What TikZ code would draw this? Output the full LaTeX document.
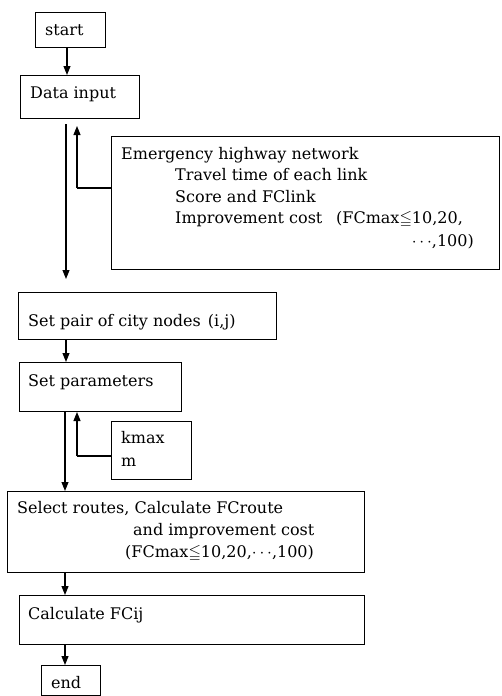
\documentclass[tikz,border=0pt]{standalone}
\usepackage{amssymb}
\usepackage{fontspec}
\setmainfont{DejaVu Serif}
\usetikzlibrary{arrows.meta}
\tikzset{
  box/.style={draw, line width=1pt, rectangle, anchor=north west, inner sep=0pt},
  txt/.style={inner sep=0pt, anchor=base west, font=\fontsize{16pt}{21.5pt}\selectfont},
  txte/.style={txt, anchor=base east},
  arr/.style={line width=1.1pt, -{Triangle[length=9pt,width=7pt]}},
  ln/.style={line width=1.1pt}
}
\begin{document}
\begin{tikzpicture}[x=1pt,y=-1pt]
\useasboundingbox (0,0) rectangle (501,696);
% boxes
\node[box, minimum width=70pt, minimum height=35pt] (start) at (35,12) {};
\node[box, minimum width=119pt, minimum height=43pt] (data) at (20,75) {};
\node[box, minimum width=388pt, minimum height=133pt] (emerg) at (111,136) {};
\node[box, minimum width=258pt, minimum height=47pt] (pair) at (18,292) {};
\node[box, minimum width=162pt, minimum height=49pt] (param) at (19,362) {};
\node[box, minimum width=80pt, minimum height=58pt] (kmax) at (111,421) {};
\node[box, minimum width=357pt, minimum height=81pt] (select) at (7,491) {};
\node[box, minimum width=345pt, minimum height=49pt] (calc) at (19,595) {};
\node[box, minimum width=59pt, minimum height=30pt] (end) at (41,665) {};
% texts
\node[txt] (tstart) at (45,35) {start};
\node[txt] (tdata) at (30,98) {Data input};
\node[txt] (te1) at (121,159) {Emergency highway network};
\node[txt] (te2) at (175,180) {Travel time of each link};
\node[txt] (te3) at (175,202) {Score and FClink};
\node[txt] (te4) at (175,223) {Improvement cost};
\node[txt] (te4b) at (336,223) {(FCmax$\leqq$10,20,};
\node[txte] (te5) at (474,246) {$\cdots$,100)};
\node[txt] (tpair) at (28,326) {Set pair of city nodes\hspace{7pt}(i,j)};
\node[txt] (tparam) at (28,386) {Set parameters};
\node[txt] (tk1) at (121,443) {kmax};
\node[txt] (tk2) at (121,466) {m};
\node[txt] (ts1) at (17,513) {Select routes, Calculate FCroute};
\node[txt] (ts2) at (133,535) {and improvement cost};
\node[txt] (ts3) at (125,557) {(FCmax$\leqq$10,20,$\cdots$,100)};
\node[txt] (tcalc) at (28,619) {Calculate FCij};
\node[txt] (tend) at (51,688) {end};
% connectors
\coordinate (c1) at (67,0);
\coordinate (c2) at (66,0);
\coordinate (c3) at (77,0);
\draw[arr] (start.south -| c1) -- (data.north -| c1);
\draw[arr, shorten <=5pt, shorten >=13pt] (data.south -| c2) -- (pair.north -| c2);
\coordinate (j1) at (77,188);
\draw[ln] (emerg.west |- j1) -- (j1);
\draw[arr, shorten >=7pt] (j1) -- (data.south -| c3);
\draw[arr] (pair.south -| c2) -- (param.north -| c2);
\draw[arr] (param.south -| 65,0) -- (select.north -| 65,0);
\coordinate (j2) at (77,456);
\draw[ln] (kmax.west |- j2) -- (j2);
\draw[arr] (j2) -- (param.south -| c3);
\draw[arr] (select.south -| 65,0) -- (calc.north -| 65,0);
\draw[arr] (calc.south -| 65,0) -- (end.north -| 65,0);
\end{tikzpicture}
\end{document}
